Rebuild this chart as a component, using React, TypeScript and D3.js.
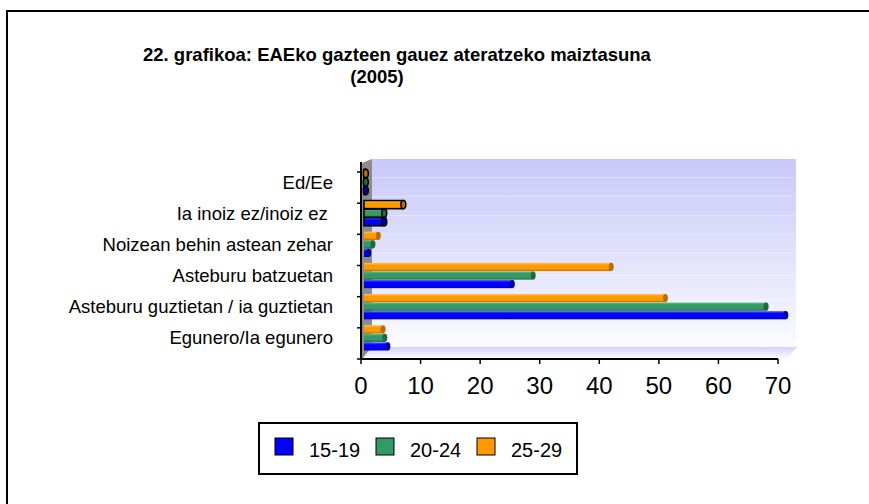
import React from "react";
import { scaleLinear, scaleBand } from "d3";

const width = 869, height = 504;

const categories = [
  "Ed/Ee",
  "Ia inoiz ez/inoiz ez ",
  "Noizean behin astean zehar",
  "Asteburu batzuetan",
  "Asteburu guztietan / ia guztietan",
  "Egunero/Ia egunero",
];
const seriesNames = ["15-19", "20-24", "25-29"];
const values1519 = [0.3, 3.4, 0.8, 24.9, 70.8, 4.0];
const values2024 = [0.3, 3.4, 1.5, 28.4, 67.5, 3.5];
const values2529 = [0.3, 6.6, 2.4, 41.5, 50.6, 3.2];
const xTicks = [0, 10, 20, 30, 40, 50, 60, 70];
const outlinedCats = ["Ed/Ee", "Ia inoiz ez/inoiz ez "];

const colors = {
  "15-19": { main: "#0000ff", light: "#6060ff", dark: "#0000a0" },
  "20-24": { main: "#339966", light: "#66bb8c", dark: "#1f6642" },
  "25-29": { main: "#ff9900", light: "#ffc060", dark: "#b86e00" },
};

const font = "'Liberation Sans', Arial, sans-serif";

const App = () => {
  const x = scaleLinear().domain([0, 70]).range([361, 778]);
  const y = scaleBand().domain(categories).range([172, 359]);
  // bars inside a group, top to bottom: 25-29, 20-24, 15-19
  const sub = scaleBand().domain(["25-29", "20-24", "15-19"]).range([0, 26]).padding(0.04);

  const seriesValues = { "15-19": values1519, "20-24": values2024, "25-29": values2529 };
  const x0 = x(0);
  const depth = 3;
  const bh = sub.bandwidth();

  return (
    <svg width={width} height={height} style={{ position: "absolute", left: 0, top: 0, background: "#fff" }}>
      <defs>
        <linearGradient id="wall" x1="0" y1="0" x2="0" y2="1">
          <stop offset="0" stopColor="#c8c8fa" />
          <stop offset="0.6" stopColor="#e6e6fc" />
          <stop offset="1" stopColor="#fbfbff" />
        </linearGradient>
        <linearGradient id="floor" x1="0" y1="0" x2="0" y2="1">
          <stop offset="0" stopColor="#d4d4f8" />
          <stop offset="0.5" stopColor="#e8e8fc" />
          <stop offset="1" stopColor="#ffffff" />
        </linearGradient>
        {seriesNames.map(s => (
          <linearGradient key={s} id={"g" + s} x1="0" y1="0" x2="0" y2="1">
            <stop offset="0" stopColor={colors[s].light} />
            <stop offset="0.3" stopColor={colors[s].main} />
            <stop offset="0.75" stopColor={colors[s].main} />
            <stop offset="1" stopColor={colors[s].dark} />
          </linearGradient>
        ))}
      </defs>

      {/* outer frame */}
      <rect x={7} y={11} width={880} height={520} fill="none" stroke="#000" strokeWidth={2} />

      {/* title */}
      <text x={143} y={61} fontFamily={font} fontWeight="bold" fontSize={18.5} fill="#000">
        22. grafikoa: EAEko gazteen gauez ateratzeko maiztasuna
      </text>
      <text x={377} y={83} textAnchor="middle" fontFamily={font} fontWeight="bold" fontSize={18.5} fill="#000">
        (2005)
      </text>

      {/* back wall, side wall, floor */}
      <rect x={372} y={159} width={424} height={188} fill="url(#wall)" />
      {[0.1, 0.2, 0.3, 0.4, 0.5, 0.62, 0.75].map((t, i) => (
        <line key={i} x1={372} x2={796} y1={159 + t * 188} y2={159 + t * 188} stroke="#fff" strokeOpacity={0.35} strokeWidth={1} />
      ))}
      <polygon points="362,359 372,347 797,347 787,359" fill="url(#floor)" />
      <polygon points="362,163 372,159 372,347 362,359" fill="#8c8c8c" />

      {/* bars */}
      {categories.map((c, ci) =>
        seriesNames.map(s => {
          const v = seriesValues[s][ci];
          const top = y(c) - 3 + sub(s);
          const xEnd = x(v) + depth;
          const outlined = outlinedCats.includes(c);
          return (
            <g key={c + s}>
              <rect x={x0 + depth} y={top} width={xEnd - x0 - depth} height={bh}
                fill={`url(#g${s})`} stroke={outlined ? "#000" : "none"} strokeWidth={outlined ? 1.5 : 0} />
              <ellipse cx={xEnd} cy={top + bh / 2} rx={2.5} ry={bh / 2} fill={colors[s].dark}
                stroke={outlined ? "#000" : "none"} strokeWidth={outlined ? 1.5 : 0} />
            </g>
          );
        })
      )}

      {/* y axis */}
      <line x1={361} x2={361} y1={162} y2={359} stroke="#000" strokeWidth={2} />
      {categories.map(c => (
        <line key={c} x1={357} x2={361} y1={y(c)} y2={y(c)} stroke="#000" strokeWidth={1.5} />
      ))}
      <line x1={357} x2={361} y1={359} y2={359} stroke="#000" strokeWidth={1.5} />
      {categories.map(c => (
        <text key={c} x={333} y={y(c) + y.bandwidth() / 2 + 1} textAnchor="end" fontFamily={font}
          fontSize={18.5} fill="#000" style={{ whiteSpace: "pre" }}>
          {c}
        </text>
      ))}

      {/* x axis */}
      <line x1={361} x2={778} y1={359} y2={359} stroke="#000" strokeWidth={2} />
      {xTicks.map(t => (
        <g key={t}>
          <line x1={x(t)} x2={x(t)} y1={359} y2={364} stroke="#000" strokeWidth={1.5} />
          <text x={x(t)} y={394} textAnchor="middle" fontFamily={font} fontSize={24} fill="#000">{t}</text>
        </g>
      ))}

      {/* legend */}
      <rect x={259} y={423} width={318} height={51} fill="#fff" stroke="#000" strokeWidth={2} />
      {seriesNames.map((s, i) => (
        <g key={s}>
          <rect x={275 + i * 101} y={438} width={18} height={17} fill={colors[s].main} stroke="#000" strokeWidth={1} />
          <text x={309 + i * 101} y={457} fontFamily={font} fontSize={20} fill="#000">{s}</text>
        </g>
      ))}
    </svg>
  );
};

export default App;
